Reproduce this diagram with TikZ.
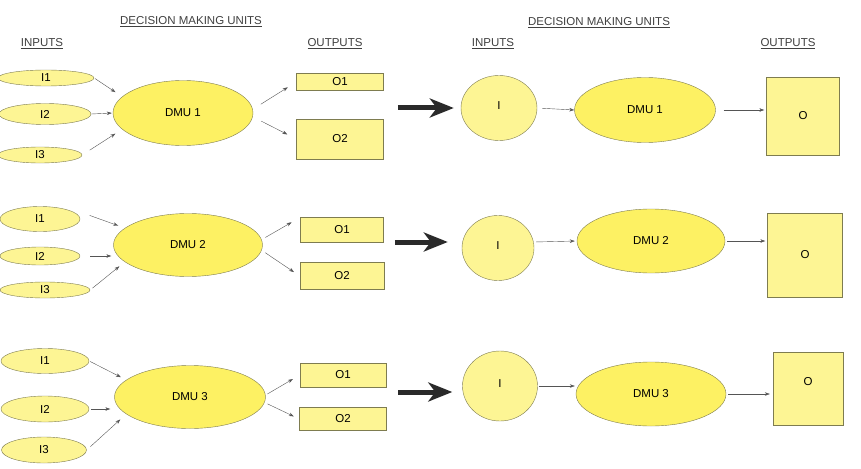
\documentclass[tikz,border=0pt]{standalone}
\usepackage{fontspec}
\setmainfont{Liberation Sans}
\usepackage{tikz}
\usetikzlibrary{arrows.meta,shapes.geometric}
\definecolor{dmufill}{HTML}{FDF163}
\definecolor{palefill}{HTML}{FDF594}
\definecolor{edgegray}{HTML}{7E7C50}
\definecolor{linegray}{HTML}{555555}
\definecolor{bigdark}{HTML}{2A2A2A}
\tikzset{every node/.append style={font=\fontsize{11.5}{13}\selectfont}}
\tikzset{
  dmu/.style={ellipse,draw=edgegray,fill=dmufill,inner sep=0pt},
  inp/.style={ellipse,draw=edgegray,fill=palefill,inner sep=0pt},
  outbox/.style={rectangle,draw=edgegray,fill=palefill,inner sep=0pt},
  conn/.style={->,linegray,thin,>={Stealth[length=5pt,width=3.5pt]}},
  bigarrow/.style={-{Stealth[length=24pt,width=19pt,inset=7pt]},bigdark,line width=5pt},
  head/.style={text=black!75}
}

\begin{document}
\begin{tikzpicture}[x=1pt,y=-1pt]
\useasboundingbox (0,0) rectangle (861,468);
% headings
\node[head] (hdl) at (191,22) {\underline{DECISION MAKING UNITS}};
\node[head] (hil) at (42,44) {\underline{INPUTS}};
\node[head] (hol) at (335,44) {\underline{OUTPUTS}};
\node[head] (hdr) at (599,23) {\underline{DECISION MAKING UNITS}};
\node[head] (hir) at (493,44) {\underline{INPUTS}};
\node[head] (hor) at (788,44) {\underline{OUTPUTS}};
% row 1, left
\node[inp,minimum width=96,minimum height=16] (a11) at (46,78) {I1};
\node[inp,minimum width=92,minimum height=21] (a12) at (45,114) {I2};
\node[inp,minimum width=84,minimum height=16] (a13) at (40,155) {I3};
\node[dmu,minimum width=140,minimum height=65] (d1) at (183,113) {DMU 1};
\node[outbox,minimum width=87,minimum height=17] (o11) at (340,82) {O1};
\node[outbox,minimum width=87,minimum height=40] (o12) at (340,139) {O2};
\draw[conn,shorten <=1pt,shorten >=8pt] (a11.east) -- (d1.165);
\draw[conn,shorten >=1pt] (a12.east) -- (d1.west);
\draw[conn,shorten <=9pt,shorten >=8pt] (a13.east) -- (d1.195);
\draw[conn,shorten <=9pt,shorten >=10pt] ([yshift=4pt]d1.east) -- (o11.west);
\draw[conn,shorten <=9pt,shorten >=10pt] ([yshift=-4pt]d1.east) -- (o12.west);
% row 1, right
\node[inp,minimum width=76,minimum height=65] (c1) at (499,108) {\raisebox{4pt}{I}};
\node[dmu,minimum width=141,minimum height=65] (e1) at (645,110) {DMU 1};
\node[outbox,minimum width=73,minimum height=78] (s1) at (803,116) {O};
\draw[bigarrow] ([xshift=-63pt]c1.west) -- ([xshift=-7pt]c1.west);
\draw[conn,shorten <=5pt] (c1.east) -- (e1.west);
\draw[conn,shorten <=8pt,shorten >=2pt] (e1.east) -- (s1.west |- e1.east);
% row 2, left
\node[inp,minimum width=80,minimum height=25] (a21) at (40,219) {I1};
\node[inp,minimum width=80,minimum height=18] (a22) at (40,256) {I2};
\node[inp,minimum width=90,minimum height=16] (a23) at (45,290) {I3};
\node[dmu,minimum width=149,minimum height=63] (d2) at (188,245) {DMU 2};
\node[outbox,minimum width=83,minimum height=25] (o21) at (342,230) {O1};
\node[outbox,minimum width=84,minimum height=27] (o22) at (342,276) {O2};
\draw[conn,shorten <=10pt,shorten >=7pt] ([yshift=7pt]a21.east) -- (d2.165);
\draw[conn,shorten <=10pt,shorten >=2pt] (a22.east) -- (d2.west |- a22.east);
\draw[conn,shorten <=3pt,shorten >=7pt] (a23.east) -- (d2.195);
\draw[conn,shorten <=3pt,shorten >=10pt] ([yshift=6pt]d2.east) -- (o21.north west);
\draw[conn,shorten <=3pt,shorten >=7pt] ([yshift=-6pt]d2.east) -- (o22.west);
% row 2, right
\node[inp,minimum width=72,minimum height=65] (c2) at (498,248) {\raisebox{4pt}{I}};
\node[dmu,minimum width=148,minimum height=64] (e2) at (651,241) {DMU 2};
\node[outbox,minimum width=75,minimum height=84] (s2) at (805,255) {O};
\draw[bigarrow] ([xshift=-67pt,yshift=6pt]c2.west) -- ([xshift=-14pt,yshift=6pt]c2.west);
\draw[conn,shorten <=2pt,shorten >=2pt] ([yshift=6pt]c2.east) -- (e2.west);
\draw[conn,shorten <=2pt,shorten >=2pt] (e2.east) -- (s2.west |- e2.east);
% row 3, left
\node[inp,minimum width=88,minimum height=25] (a31) at (45,361) {I1};
\node[inp,minimum width=88,minimum height=26] (a32) at (45,409) {I2};
\node[inp,minimum width=85,minimum height=26] (a33) at (44,450) {I3};
\node[dmu,minimum width=151,minimum height=63] (d3) at (190,397) {DMU 3};
\node[outbox,minimum width=86,minimum height=24] (o31) at (343,375) {O1};
\node[outbox,minimum width=87,minimum height=23] (o32) at (343,419) {O2};
\draw[conn,shorten <=1pt,shorten >=6pt] (a31.east) -- (d3.165);
\draw[conn,shorten <=2pt,shorten >=4pt] (a32.east) -- (a32.east -| d3.west);
\draw[conn,shorten <=5pt,shorten >=8pt] (a33.east) -- (d3.195);
\draw[conn,shorten <=2pt,shorten >=8pt] ([yshift=2pt]d3.east) -- (o31.west);
\draw[conn,shorten <=2pt,shorten >=6pt] ([yshift=-6pt]d3.east) -- (o32.west);
% row 3, right
\node[inp,minimum width=75,minimum height=70] (c3) at (500,386) {\raisebox{4pt}{I}};
\node[dmu,minimum width=150,minimum height=64] (e3) at (651,394) {DMU 3};
\node[outbox,minimum width=70,minimum height=73,text depth=0pt] (s3) at (808,389) {\raisebox{16pt}{O}};
\draw[bigarrow] ([xshift=-64pt,yshift=-6pt]c3.west) -- ([xshift=-10pt,yshift=-6pt]c3.west);
\draw[conn,shorten <=1pt,shorten >=1pt] (c3.east) -- (c3.east -| e3.west);
\draw[conn,shorten <=2pt,shorten >=3pt] (e3.east) -- (s3.west |- e3.east);
\end{tikzpicture}
\end{document}
